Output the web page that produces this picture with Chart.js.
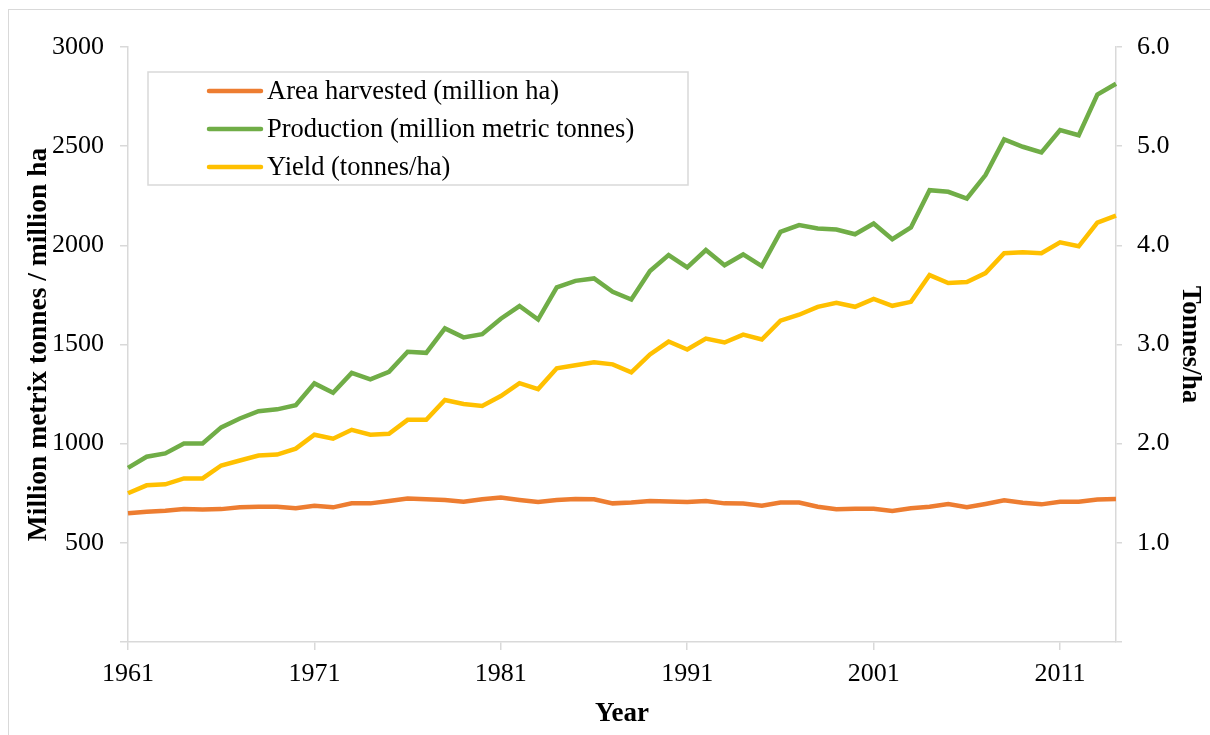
<!DOCTYPE html>
<html>
<head>
<meta charset="utf-8">
<script src="https://cdn.jsdelivr.net/npm/chart.js@4.4.1/dist/chart.umd.min.js"></script>
<style>
    html, body { margin: 0; padding: 0; background: #fff; overflow: hidden; }
    #frame { position: absolute; left: 8px; top: 9px; width: 1220px; height: 760px; border: 1.5px solid #d9d9d9; }
    #chart { position: absolute; left: 0; top: 0; }
</style>
</head>
<body>
<div id="frame"></div>
<canvas id="chart" width="1210" height="735"></canvas>
<script>
const years = [
    '1961', '1962', '1963', '1964', '1965', '1966', '1967', '1968', '1969', '1970',
    '1971', '1972', '1973', '1974', '1975', '1976', '1977', '1978', '1979', '1980',
    '1981', '1982', '1983', '1984', '1985', '1986', '1987', '1988', '1989', '1990',
    '1991', '1992', '1993', '1994', '1995', '1996', '1997', '1998', '1999', '2000',
    '2001', '2002', '2003', '2004', '2005', '2006', '2007', '2008', '2009', '2010',
    '2011', '2012', '2013', '2014'
];

// million ha
const areaHarvested = [
    649, 657, 662, 670, 668, 670, 679, 682, 682, 674,
    687, 679, 699, 699, 711, 724, 720, 716, 707, 720,
    728, 716, 706, 716, 721, 720, 699, 703, 711, 709,
    706, 711, 699, 698, 687, 703, 703, 682, 669, 672,
    672, 660, 674, 682, 696, 679, 696, 714, 702, 694,
    707, 707, 719, 721
];

// million metric tonnes
const production = [
    878, 934, 951, 1001, 1001, 1082, 1127, 1164, 1173, 1194,
    1304, 1257, 1357, 1324, 1362, 1463, 1458, 1581, 1536, 1552,
    1630, 1694, 1626, 1788, 1821, 1833, 1766, 1727, 1871, 1951,
    1889, 1976, 1900, 1954, 1895, 2068, 2102, 2085, 2080, 2056,
    2110, 2031, 2090, 2278, 2270, 2236, 2354, 2534, 2497, 2468,
    2581, 2555, 2760, 2815
];

// tonnes/ha
const yieldPerHa = [
    1.50, 1.58, 1.59, 1.65, 1.65, 1.78, 1.83, 1.88, 1.89, 1.95,
    2.09, 2.05, 2.14, 2.09, 2.10, 2.24, 2.24, 2.44, 2.40, 2.38,
    2.48, 2.61, 2.55, 2.76, 2.79, 2.82, 2.80, 2.72, 2.90, 3.03,
    2.95, 3.06, 3.02, 3.10, 3.05, 3.24, 3.30, 3.38, 3.42, 3.38,
    3.46, 3.39, 3.43, 3.70, 3.62, 3.63, 3.72, 3.92, 3.93, 3.92,
    4.03, 3.99, 4.23, 4.30
];

const seriesNames = ['Area harvested (million ha)', 'Production (million metric tonnes)', 'Yield (tonnes/ha)'];
const seriesColors = ['#ED7D31', '#70AD47', '#FFC000'];

const FONT = "'Liberation Serif', 'Times New Roman', serif";
const AXIS_GRAY = '#d9d9d9';

// legend drawn inside the plot area, Excel style
const boxLegend = {
    id: 'boxLegend',
    afterDraw(chart) {
        const ctx = chart.ctx;
        const x0 = 148, y0 = 72, w = 540, h = 113;
        ctx.save();
        ctx.strokeStyle = AXIS_GRAY;
        ctx.lineWidth = 1.5;
        ctx.strokeRect(x0, y0, w, h);
        ctx.font = '26.5px ' + FONT;
        ctx.textBaseline = 'middle';
        ctx.fillStyle = '#000';
        chart.data.datasets.forEach((ds, i) => {
            const y = y0 + 19 + i * 38;
            ctx.strokeStyle = ds.borderColor;
            ctx.lineWidth = 4.5;
            ctx.lineCap = 'round';
            ctx.beginPath();
            ctx.moveTo(209, y);
            ctx.lineTo(261, y);
            ctx.stroke();
            ctx.fillText(ds.label, 267, y + 1);
        });
        ctx.restore();
    }
};

new Chart(document.getElementById('chart'), {
    type: 'line',
    data: {
        labels: years,
        datasets: [
            { label: seriesNames[0], data: areaHarvested, yAxisID: 'y', borderColor: seriesColors[0], backgroundColor: seriesColors[0] },
            { label: seriesNames[1], data: production, yAxisID: 'y', borderColor: seriesColors[1], backgroundColor: seriesColors[1] },
            { label: seriesNames[2], data: yieldPerHa, yAxisID: 'y1', borderColor: seriesColors[2], backgroundColor: seriesColors[2] }
        ]
    },
    options: {
        responsive: false,
        animation: false,
        layout: { padding: { top: 47, left: 0, right: 0, bottom: 0 } },
        elements: {
            point: { radius: 0 },
            line: { borderWidth: 4.5, tension: 0, borderJoinStyle: 'miter' }
        },
        plugins: {
            legend: { display: false },
            tooltip: { enabled: false }
        },
        scales: {
            x: {
                type: 'category',
                offset: false,
                border: { color: AXIS_GRAY, width: 1.5 },
                grid: { drawOnChartArea: false, color: AXIS_GRAY, lineWidth: 1.5, tickLength: 8 },
                ticks: {
                    autoSkip: false,
                    maxRotation: 0,
                    padding: 9,
                    color: '#000',
                    font: { family: FONT, size: 26 },
                    callback: (v, i) => (i % 10 === 0 ? years[i] : null)
                },
                title: {
                    display: true,
                    text: 'Year',
                    color: '#000',
                    font: { family: FONT, size: 27, weight: 'bold' },
                    padding: { top: 0, bottom: 5 }
                },
                afterFit: (s) => { s.height = 93; }
            },
            y: {
                position: 'left',
                min: 0,
                max: 3000,
                border: { color: AXIS_GRAY, width: 1.5 },
                grid: { drawOnChartArea: false, color: AXIS_GRAY, lineWidth: 1.5, tickLength: 8 },
                ticks: {
                    stepSize: 500,
                    padding: 16,
                    color: '#000',
                    font: { family: FONT, size: 26 },
                    callback: (v) => (v === 0 ? '' : v)
                },
                title: {
                    display: true,
                    text: 'Million metrix tonnes / million ha',
                    color: '#000',
                    font: { family: FONT, size: 27.5, weight: 'bold' },
                    padding: { top: 22, bottom: 0 }
                },
                afterFit: (s) => { s.width = 128; }
            },
            y1: {
                position: 'right',
                min: 0,
                max: 6,
                border: { color: AXIS_GRAY, width: 1.5 },
                grid: { drawOnChartArea: false, color: AXIS_GRAY, lineWidth: 1.5, tickLength: 6 },
                ticks: {
                    stepSize: 1,
                    padding: 15,
                    color: '#000',
                    font: { family: FONT, size: 26 },
                    callback: (v) => (v === 0 ? '' : v.toFixed(1))
                },
                title: {
                    display: true,
                    text: 'Tonnes/ha',
                    color: '#000',
                    font: { family: FONT, size: 27, weight: 'bold' },
                    padding: { top: 4, bottom: 0 }
                },
                afterFit: (s) => { s.width = 94; }
            }
        }
    },
    plugins: [boxLegend]
});
</script>
</body>
</html>
